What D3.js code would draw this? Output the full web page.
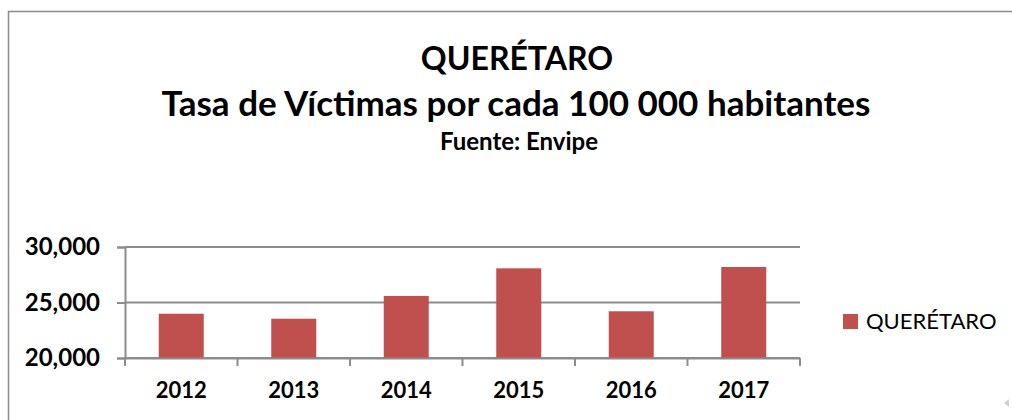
<!DOCTYPE html>
<html>

<head>
    <meta charset="utf-8">
    <title>Querétaro</title>
    <script src="https://d3js.org/d3.v7.min.js"></script>
    <style>
        body { margin: 0; background: #fff; }
        text { font-family: Lato, "Liberation Sans", sans-serif; }
    </style>
</head>

<body>
    <div id="chart"></div>
</body>

<script type="text/javascript">
    // data
    var years = ["2012", "2013", "2014", "2015", "2016", "2017"];
    var tasa = [23990, 23540, 25590, 28080, 24210, 28200];
    var yTicks = [20000, 25000, 30000];
    var seriesName = "QUERÉTARO";

    var width = 1012;
    var height = 420;
    // plot area edges
    var plotLeft = 125, plotRight = 800, plotTop = 247, plotBottom = 358;

    var svg = d3.select("#chart")
        .append("svg")
        .attr("width", width)
        .attr("height", height);

    // outer frame (only top and left visible)
    svg.append("path")
        .attr("d", "M8.5,420 L8.5,11.5 L1012,11.5")
        .attr("fill", "none")
        .attr("stroke", "#8c8c8c")
        .attr("stroke-width", 1.5);

    // titles
    svg.append("text")
        .attr("x", 517).attr("y", 70)
        .attr("text-anchor", "middle")
        .style("font-weight", "bold")
        .style("font-size", "32px")
        .text("QUERÉTARO");

    svg.append("text")
        .attr("x", 516).attr("y", 116)
        .attr("text-anchor", "middle")
        .style("font-weight", "bold")
        .style("font-size", "35px")
        .text("Tasa de Víctimas por cada 100 000 habitantes");

    svg.append("text")
        .attr("x", 519).attr("y", 150)
        .attr("text-anchor", "middle")
        .style("font-weight", "bold")
        .style("font-size", "24px")
        .text("Fuente: Envipe");

    // scales
    var x_scale = d3.scaleBand()
        .domain(years)
        .range([plotLeft, plotRight])
        .padding(0);

    var y_scale = d3.scaleLinear()
        .domain([20000, 30000])
        .range([plotBottom, plotTop]);

    // gridlines
    svg.append("g")
        .selectAll("line")
        .data(yTicks)
        .enter()
        .append("line")
        .attr("x1", plotLeft)
        .attr("x2", plotRight)
        .attr("y1", function (d) { return y_scale(d); })
        .attr("y2", function (d) { return y_scale(d); })
        .attr("stroke", "#8c8c8c")
        .attr("stroke-width", 2);

    // bars (gap width 150%)
    var bw = x_scale.bandwidth() * 0.4;
    svg.append("g")
        .selectAll("rect")
        .data(tasa)
        .enter()
        .append("rect")
        .attr("x", function (d, i) { return x_scale(years[i]) + x_scale.bandwidth() * 0.3; })
        .attr("y", function (d) { return y_scale(d); })
        .attr("width", bw)
        .attr("height", function (d) { return plotBottom - y_scale(d); })
        .attr("fill", "#c0504d");

    // y axis
    var y_axis = d3.axisLeft(y_scale)
        .tickValues(yTicks)
        .tickSize(8)
        .tickPadding(17)
        .tickFormat(d3.format(","));

    svg.append("g")
        .attr("transform", "translate(" + plotLeft + ",0)")
        .call(y_axis)
        .call(function (g) {
            g.select(".domain").attr("stroke", "#8c8c8c").attr("stroke-width", 2);
            g.selectAll(".tick line").attr("stroke", "#8c8c8c").attr("stroke-width", 2);
            g.selectAll("text")
                .attr("fill", "#000")
                .style("font-family", "Lato")
                .style("font-size", "24px")
                .style("font-weight", "bold");
        });

    // x axis, tick marks go on the category boundaries
    var x_axis = d3.axisBottom(x_scale)
        .tickSize(0)
        .tickPadding(24);

    svg.append("g")
        .attr("transform", "translate(0," + plotBottom + ")")
        .call(x_axis)
        .call(function (g) {
            g.select(".domain").attr("stroke", "#8c8c8c").attr("stroke-width", 2);
            g.selectAll("text")
                .attr("fill", "#000")
                .style("font-family", "Lato")
                .style("font-size", "22px")
                .style("font-weight", "bold");
        });

    var bounds = years.map(function (d) { return x_scale(d); }).concat([plotRight]);
    svg.append("g")
        .selectAll("line")
        .data(bounds)
        .enter()
        .append("line")
        .attr("x1", function (d) { return d; })
        .attr("x2", function (d) { return d; })
        .attr("y1", plotBottom)
        .attr("y2", plotBottom + 8)
        .attr("stroke", "#8c8c8c")
        .attr("stroke-width", 2);

    // legend
    var legend = svg.append("g").attr("transform", "translate(843,314)");
    legend.append("rect")
        .attr("width", 15).attr("height", 15)
        .attr("fill", "#c0504d");
    legend.append("text")
        .attr("x", 23).attr("y", 15)
        .style("font-size", "22px")
        .text(seriesName);

    // small scroll marker at bottom right
    svg.append("path")
        .attr("d", "M1004,403 L1009,399 L1009,407 Z")
        .attr("fill", "#d0d0d0");
</script>

</html>
